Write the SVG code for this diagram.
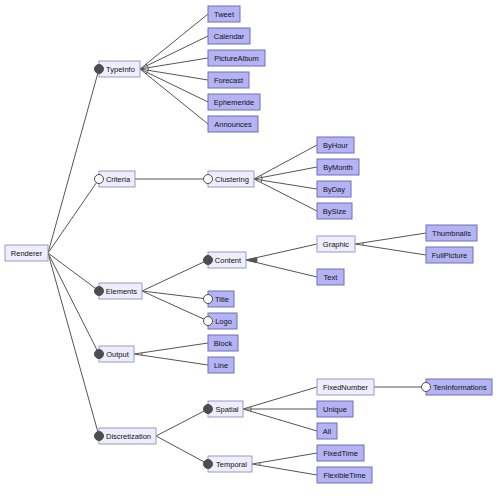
<svg xmlns="http://www.w3.org/2000/svg" width="497" height="502" viewBox="0 0 497 502">
<style>
.l rect{fill:#ededfb;stroke:#9a9ac6;stroke-width:1}
.d rect{fill:#b4b4f4;stroke:#6f6fb5;stroke-width:1}
text{font-family:"Liberation Sans",Arial,sans-serif;font-size:7.5px;fill:#111;text-anchor:middle}
.m{fill:#4d4d4d;stroke:#4d4d4d;stroke-width:1}
.o{fill:#fff;stroke:#4d4d4d;stroke-width:1}
#connectors line{stroke:#555;stroke-width:1}
#connectors path.a{fill:none;stroke:#555;stroke-width:1}
#connectors path.f{fill:#555;stroke:#555;stroke-width:1}
</style>
<rect width="497" height="502" fill="#fff"/>
<g id="connectors">
<line x1="48" y1="253" x2="99" y2="69"/>
<line x1="48" y1="253" x2="99" y2="179"/>
<line x1="48" y1="253" x2="99" y2="291"/>
<line x1="48" y1="253" x2="99" y2="354"/>
<line x1="48" y1="253" x2="99" y2="436"/>
<line x1="140" y1="69" x2="208" y2="14"/>
<line x1="140" y1="69" x2="208" y2="36"/>
<line x1="140" y1="69" x2="208" y2="58"/>
<line x1="140" y1="69" x2="208" y2="80"/>
<line x1="140" y1="69" x2="208" y2="102"/>
<line x1="140" y1="69" x2="208" y2="124"/>
<path class="a" d="M146.2 64 A8 8 0 0 1 146.2 74"/>
<line x1="135" y1="179" x2="208" y2="179"/>
<line x1="254" y1="179" x2="317" y2="145"/>
<line x1="254" y1="179" x2="317" y2="167"/>
<line x1="254" y1="179" x2="317" y2="189"/>
<line x1="254" y1="179" x2="317" y2="211"/>
<path class="a" d="M261 175.2 A8 8 0 0 1 261.1 182.6"/>
<line x1="142" y1="291" x2="208" y2="260"/>
<line x1="142" y1="291" x2="208" y2="299"/>
<line x1="142" y1="291" x2="208" y2="321"/>
<line x1="246" y1="260" x2="317" y2="244"/>
<line x1="246" y1="260" x2="317" y2="277"/>
<path class="f" d="M246 260 L256.7 257.6 A11 11 0 0 1 256.7 262.6 Z"/>
<line x1="355" y1="244" x2="426" y2="233"/>
<line x1="355" y1="244" x2="426" y2="255"/>
<path class="a" d="M362.9 242.8 A8 8 0 0 1 362.9 245.2"/>
<line x1="134" y1="354" x2="208" y2="343"/>
<line x1="134" y1="354" x2="208" y2="365"/>
<path class="a" d="M141.9 352.8 A8 8 0 0 1 141.9 355.2"/>
<line x1="156" y1="436" x2="208" y2="409"/>
<line x1="156" y1="436" x2="208" y2="464"/>
<line x1="243" y1="409" x2="317" y2="387"/>
<line x1="243" y1="409" x2="317" y2="409"/>
<line x1="243" y1="409" x2="317" y2="431"/>
<path class="a" d="M250.7 406.7 A8 8 0 0 1 250.7 411.3"/>
<line x1="374" y1="387" x2="426" y2="387"/>
<line x1="252" y1="464" x2="317" y2="453"/>
<line x1="252" y1="464" x2="317" y2="475"/>
<path class="a" d="M259.9 462.7 A8 8 0 0 1 259.9 465.3"/>
</g>
<g id="Renderer" class="l"><rect x="5" y="245" width="43" height="16"/><text x="26.5" y="255.7">Renderer</text></g>
<g id="TypeInfo" class="l"><rect x="99" y="61" width="41" height="16"/><text x="120.5" y="71.7">TypeInfo</text><circle class="m" cx="99" cy="69" r="4.5"/></g>
<g id="Criteria" class="l"><rect x="99" y="171" width="36" height="16"/><text x="118" y="181.7">Criteria</text><circle class="o" cx="99" cy="179" r="4.5"/></g>
<g id="Elements" class="l"><rect x="99" y="283" width="43" height="16"/><text x="121.5" y="293.7">Elements</text><circle class="m" cx="99" cy="291" r="4.5"/></g>
<g id="Output" class="l"><rect x="99" y="346" width="35" height="16"/><text x="117.5" y="356.7">Output</text><circle class="m" cx="99" cy="354" r="4.5"/></g>
<g id="Discretization" class="l"><rect x="99" y="428" width="57" height="16"/><text x="128.5" y="438.7">Discretization</text><circle class="m" cx="99" cy="436" r="4.5"/></g>
<g id="Tweet" class="d"><rect x="208" y="6" width="32" height="16"/><text x="224" y="16.7">Tweet</text></g>
<g id="Calendar" class="d"><rect x="208" y="28" width="42" height="16"/><text x="229" y="38.7">Calendar</text></g>
<g id="PictureAlbum" class="d"><rect x="208" y="50" width="57" height="16"/><text x="236.5" y="60.7">PictureAlbum</text></g>
<g id="Forecast" class="d"><rect x="208" y="72" width="41" height="16"/><text x="228.5" y="82.7">Forecast</text></g>
<g id="Ephemeride" class="d"><rect x="208" y="94" width="52" height="16"/><text x="234" y="104.7">Ephemeride</text></g>
<g id="Announces" class="d"><rect x="208" y="116" width="50" height="16"/><text x="233" y="126.7">Announces</text></g>
<g id="Clustering" class="l"><rect x="208" y="171" width="46" height="16"/><text x="232" y="181.7">Clustering</text><circle class="o" cx="208" cy="179" r="4.5"/></g>
<g id="ByHour" class="d"><rect x="317" y="137" width="37" height="16"/><text x="335.5" y="147.7">ByHour</text></g>
<g id="ByMonth" class="d"><rect x="317" y="159" width="42" height="16"/><text x="338" y="169.7">ByMonth</text></g>
<g id="ByDay" class="d"><rect x="317" y="181" width="34" height="16"/><text x="334" y="191.7">ByDay</text></g>
<g id="BySize" class="d"><rect x="317" y="203" width="35" height="16"/><text x="334.5" y="213.7">BySize</text></g>
<g id="Content" class="l"><rect x="208" y="252" width="38" height="16"/><text x="228" y="262.7">Content</text><circle class="m" cx="208" cy="260" r="4.5"/></g>
<g id="Graphic" class="l"><rect x="317" y="236" width="38" height="16"/><text x="336" y="246.7">Graphic</text></g>
<g id="Text" class="d"><rect x="317" y="269" width="27" height="16"/><text x="330.5" y="279.7">Text</text></g>
<g id="Thumbnails" class="d"><rect x="426" y="225" width="51" height="16"/><text x="451.5" y="235.7">Thumbnails</text></g>
<g id="FullPicture" class="d"><rect x="426" y="247" width="47" height="16"/><text x="449.5" y="257.7">FullPicture</text></g>
<g id="Title" class="d"><rect x="208" y="291" width="26" height="16"/><text x="222" y="301.7">Title</text><circle class="o" cx="208" cy="299" r="4.5"/></g>
<g id="Logo" class="d"><rect x="208" y="313" width="29" height="16"/><text x="223.5" y="323.7">Logo</text><circle class="o" cx="208" cy="321" r="4.5"/></g>
<g id="Block" class="d"><rect x="208" y="335" width="30" height="16"/><text x="223" y="345.7">Block</text></g>
<g id="Line" class="d"><rect x="208" y="357" width="26" height="16"/><text x="221" y="367.7">Line</text></g>
<g id="Spatial" class="l"><rect x="208" y="401" width="35" height="16"/><text x="227" y="411.7">Spatial</text><circle class="m" cx="208" cy="409" r="4.5"/></g>
<g id="Temporal" class="l"><rect x="208" y="456" width="44" height="16"/><text x="231.5" y="466.7">Temporal</text><circle class="m" cx="208" cy="464" r="4.5"/></g>
<g id="FixedNumber" class="l"><rect x="317" y="379" width="57" height="16"/><text x="345.5" y="389.7">FixedNumber</text></g>
<g id="TenInformations" class="d"><rect x="426" y="379" width="66" height="16"/><text x="460" y="389.7">TenInformations</text><circle class="o" cx="426" cy="387" r="4.5"/></g>
<g id="Unique" class="d"><rect x="317" y="401" width="36" height="16"/><text x="335" y="411.7">Unique</text></g>
<g id="All" class="d"><rect x="317" y="423" width="20" height="16"/><text x="327" y="433.7">All</text></g>
<g id="FixedTime" class="d"><rect x="317" y="445" width="47" height="16"/><text x="340.5" y="455.7">FixedTime</text></g>
<g id="FlexibleTime" class="d"><rect x="317" y="467" width="55" height="16"/><text x="344.5" y="477.7">FlexibleTime</text></g>
</svg>
